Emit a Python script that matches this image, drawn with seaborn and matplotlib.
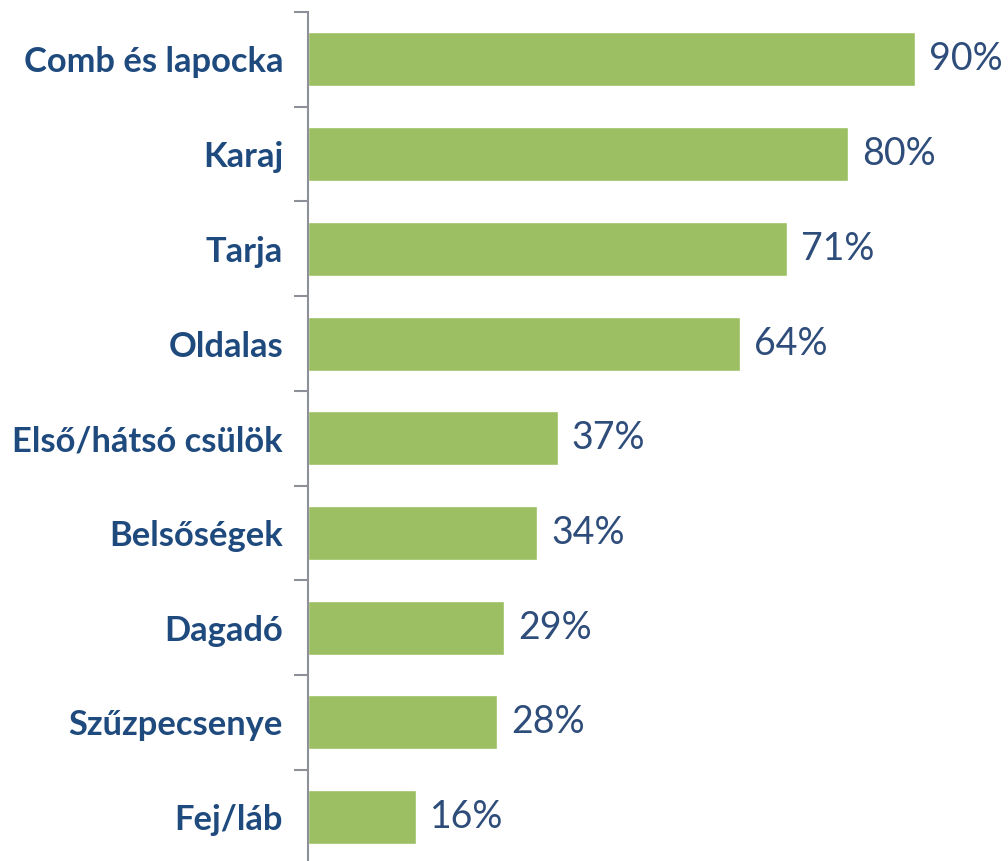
import numpy as np
import pandas as pd
import matplotlib
matplotlib.use("Agg")
import matplotlib.pyplot as plt
import seaborn as sns

# ── Data ────────────────────────────────────────────────────────────────────
categories = ["Comb és lapocka", "Karaj", "Tarja", "Oldalas", "Első/hátsó csülök",
              "Belsőségek", "Dagadó", "Szűzpecsenye", "Fej/láb"]
values = [90, 80, 71, 64, 37, 34, 29, 28, 16]

BAR_GREEN = "#9BBF62"
LABEL_BLUE = "#1F4A7E"
VALUE_BLUE = "#2E4D7A"
AXIS_GREY = "#8E9099"

sns.set_style("white")
plt.rcParams["font.family"] = ["Lato", "DejaVu Sans"]

df = pd.DataFrame({"cat": categories, "val": values})

fig = plt.figure(figsize=(10.08, 8.61), dpi=100)
ax = fig.add_axes([0.3056, -0.004, 0.669, 0.990])

sns.barplot(data=df, x="val", y="cat", orient="h", color=BAR_GREEN,
            saturation=1, width=0.57, ax=ax)

ax.set_xlim(0, 100)
ax.set_ylim(len(categories) - 0.5, -0.5)

for i, v in enumerate(values):
    ax.text(v + 2.1, i, f"{v}%", va="center", ha="left",
            fontsize=27, color=VALUE_BLUE)

for s in ["top", "right", "bottom"]:
    ax.spines[s].set_visible(False)
ax.spines["left"].set_color(AXIS_GREY)
ax.spines["left"].set_linewidth(1.5)

ax.set_xticks([])
ax.set_xlabel("")
ax.set_ylabel("")
ax.set_yticks(range(len(categories)))
ax.set_yticklabels(categories, fontsize=24.8, fontweight="bold", color=LABEL_BLUE)
ax.tick_params(axis="y", which="major", length=0, pad=18)
ax.set_yticks(np.arange(-0.5, len(categories), 1), minor=True)
ax.tick_params(axis="y", which="minor", length=10, width=1.5,
               color=AXIS_GREY, left=True)

fig.savefig("out.png", dpi=100)
